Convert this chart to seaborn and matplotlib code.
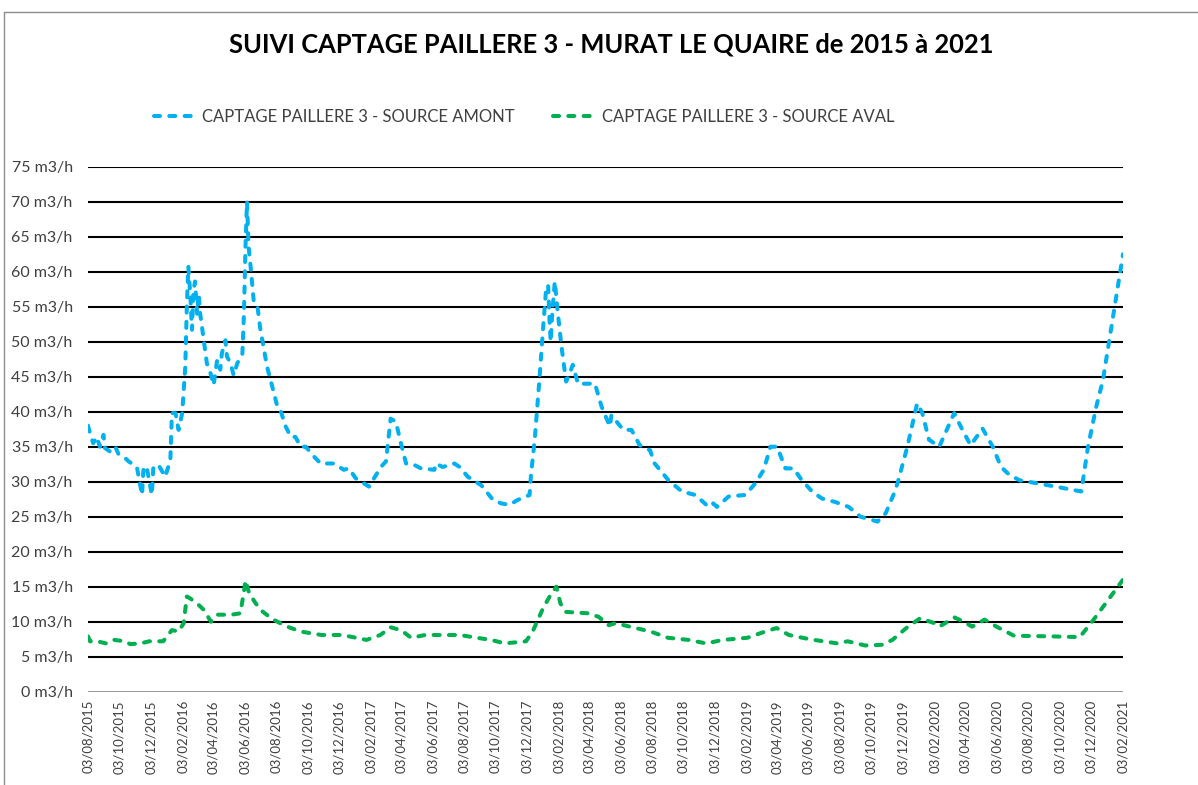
import matplotlib
matplotlib.use("Agg")
import matplotlib.pyplot as plt
from matplotlib.lines import Line2D
from matplotlib.ticker import FuncFormatter, MultipleLocator
import pandas as pd
import seaborn as sns

TITLE = "SUIVI CAPTAGE PAILLERE 3 - MURAT LE QUAIRE de 2015 à 2021"
NAME_AMONT = "CAPTAGE PAILLERE 3 - SOURCE AMONT"
NAME_AVAL = "CAPTAGE PAILLERE 3 - SOURCE AVAL"

amont_dates = [
    "2015-08-03", "2015-08-07", "2015-08-13", "2015-08-20", "2015-08-26", "2015-09-02", "2015-09-05",
    "2015-09-15", "2015-09-25", "2015-10-01", "2015-10-11", "2015-10-21", "2015-11-06", "2015-11-16",
    "2015-11-19", "2015-11-25", "2015-12-05", "2015-12-08", "2015-12-18", "2015-12-31", "2016-01-10",
    "2016-01-13", "2016-01-20", "2016-01-26", "2016-02-02", "2016-02-08", "2016-02-11", "2016-02-14",
    "2016-02-18", "2016-02-21", "2016-02-24", "2016-02-27", "2016-03-02", "2016-03-05", "2016-03-08",
    "2016-03-15", "2016-03-21", "2016-03-28", "2016-04-03", "2016-04-10", "2016-04-16", "2016-04-19",
    "2016-04-26", "2016-04-29", "2016-05-06", "2016-05-12", "2016-05-19", "2016-05-29", "2016-06-01",
    "2016-06-04", "2016-06-07", "2016-06-10", "2016-06-14", "2016-06-20", "2016-06-27", "2016-07-03",
    "2016-07-16", "2016-07-26", "2016-08-05", "2016-08-11", "2016-08-21", "2016-08-31", "2016-09-09",
    "2016-09-19", "2016-09-29", "2016-10-15", "2016-10-28", "2016-11-23", "2016-12-12", "2016-12-22",
    "2017-01-04", "2017-01-30", "2017-02-22", "2017-03-04", "2017-03-13", "2017-03-23", "2017-04-02",
    "2017-04-12", "2017-04-28", "2017-05-11", "2017-06-06", "2017-06-09", "2017-06-22", "2017-07-15",
    "2017-07-25", "2017-08-10", "2017-09-05", "2017-09-28", "2017-10-14", "2017-10-30", "2017-11-15",
    "2017-12-08", "2017-12-11", "2017-12-18", "2017-12-27", "2018-01-03", "2018-01-09", "2018-01-13",
    "2018-01-16", "2018-01-18", "2018-01-21", "2018-01-26", "2018-02-01", "2018-02-08", "2018-02-17",
    "2018-02-24", "2018-03-02", "2018-03-12", "2018-04-14", "2018-04-27", "2018-05-13", "2018-05-16",
    "2018-06-08", "2018-06-24", "2018-07-10", "2018-07-30", "2018-08-08", "2018-09-04", "2018-09-30",
    "2018-10-26", "2018-11-21", "2018-11-30", "2018-12-07", "2018-12-30", "2019-01-31", "2019-02-20",
    "2019-03-08", "2019-03-21", "2019-04-03", "2019-04-19", "2019-05-05", "2019-05-21", "2019-06-10",
    "2019-06-29", "2019-07-25", "2019-08-20", "2019-09-12", "2019-10-15", "2019-10-31", "2019-11-16",
    "2019-11-23", "2019-12-12", "2019-12-31", "2020-01-10", "2020-01-23", "2020-02-12", "2020-03-12",
    "2020-03-28", "2020-04-13", "2020-05-06", "2020-05-26", "2020-06-11", "2020-06-27", "2020-07-17",
    "2020-08-18", "2020-09-25", "2020-11-14", "2020-11-27", "2020-12-13", "2020-12-26", "2021-02-03",
]
amont_values = [
    38.0, 36.9, 35.5, 36.4, 35.0, 36.7, 34.8,
    34.3, 35.0, 34.0, 33.6, 32.9, 32.1, 28.1,
    32.1, 32.1, 28.1, 32.1, 32.4, 30.7, 33.1,
    39.8, 39.8, 37.4, 39.8, 46.4, 55.0, 60.7,
    56.4, 51.7, 57.4, 58.6, 54.0, 56.9, 54.0,
    50.2, 46.9, 45.5, 43.8, 47.4, 46.0, 48.3,
    50.2, 47.9, 46.9, 45.2, 46.9, 48.3, 54.0,
    63.6, 70.0, 63.6, 60.7, 55.8, 55.2, 51.7,
    46.4, 43.6, 40.7, 40.2, 37.9, 36.4, 36.4,
    35.0, 35.0, 33.6, 32.6, 32.6, 31.7, 31.9,
    30.5, 29.3, 32.1, 32.9, 39.0, 38.6, 35.5,
    32.6, 32.4, 31.9, 31.7, 32.6, 32.1, 32.6,
    32.1, 30.7, 29.5, 27.4, 26.9, 26.7, 27.4,
    28.1, 31.2, 36.0, 44.5, 51.7, 57.4, 58.1,
    52.6, 50.0, 54.0, 58.6, 54.0, 49.3, 44.3,
    45.5, 46.7, 44.0, 44.0, 40.7, 37.9, 39.5,
    37.4, 37.4, 35.2, 34.5, 32.6, 30.2, 28.6,
    28.1, 26.4, 26.9, 26.4, 27.9, 28.1, 29.8,
    31.7, 35.0, 35.0, 31.9, 31.9, 30.2, 28.6,
    27.6, 27.1, 26.4, 25.0, 24.3, 25.5, 28.3,
    29.8, 35.0, 41.2, 39.8, 36.0, 35.0, 39.8,
    37.4, 35.2, 37.6, 35.0, 32.1, 31.0, 30.2,
    29.8, 29.3, 28.6, 35.0, 40.7, 44.5, 62.5,
]

aval_dates = [
    "2015-08-03", "2015-08-07", "2015-08-21", "2015-09-07", "2015-09-23", "2015-10-14", "2015-10-24",
    "2015-11-13", "2015-11-30", "2015-12-27", "2016-01-13", "2016-01-26", "2016-02-05", "2016-02-11",
    "2016-02-18", "2016-03-02", "2016-03-15", "2016-03-29", "2016-04-11", "2016-05-08", "2016-05-25",
    "2016-06-01", "2016-06-04", "2016-06-11", "2016-06-24", "2016-07-08", "2016-07-28", "2016-08-24",
    "2016-09-19", "2016-10-30", "2016-12-09", "2017-01-05", "2017-01-25", "2017-02-21", "2017-03-13",
    "2017-04-02", "2017-04-22", "2017-05-19", "2017-06-28", "2017-07-25", "2017-08-28", "2017-09-24",
    "2017-10-21", "2017-12-01", "2017-12-14", "2018-01-03", "2018-01-16", "2018-01-29", "2018-02-06",
    "2018-02-16", "2018-04-01", "2018-04-21", "2018-05-11", "2018-05-24", "2018-06-20", "2018-07-31",
    "2018-09-03", "2018-10-13", "2018-11-16", "2018-12-19", "2019-02-04", "2019-03-03", "2019-04-02",
    "2019-04-26", "2019-06-05", "2019-07-29", "2019-08-18", "2019-09-21", "2019-10-24", "2019-11-13",
    "2019-12-10", "2020-01-06", "2020-02-02", "2020-02-12", "2020-03-13", "2020-03-30", "2020-04-16",
    "2020-05-10", "2020-06-02", "2020-07-06", "2020-09-18", "2020-11-11", "2020-12-08", "2021-01-10",
    "2021-02-03",
]
aval_values = [
    7.9, 7.2, 7.2, 6.9, 7.4, 7.2, 6.8,
    6.9, 7.2, 7.2, 8.8, 8.6, 9.8, 13.6,
    13.3, 12.6, 11.7, 10.0, 11.0, 11.0, 11.2,
    14.3, 15.9, 14.1, 12.6, 11.4, 10.3, 9.3,
    8.6, 8.1, 8.1, 7.7, 7.4, 8.1, 9.2,
    8.8, 7.7, 8.1, 8.1, 8.1, 7.7, 7.4,
    6.9, 7.2, 8.6, 11.9, 13.6, 15.0, 12.6,
    11.4, 11.2, 10.7, 9.5, 9.8, 9.3, 8.6,
    7.7, 7.4, 6.9, 7.4, 7.7, 8.4, 9.1,
    8.1, 7.5, 6.9, 7.2, 6.6, 6.7, 7.4,
    9.1, 10.5, 9.8, 9.3, 10.6, 10.0, 9.3,
    10.3, 9.3, 8.0, 7.9, 7.8, 10.3, 13.6,
    16.0,
]

tick_month_starts = pd.date_range("2015-08-01", "2021-02-01", freq="2MS")
y_max = 75
y_step = 5

BLUE = "#00B0F0"
GREEN = "#00B050"
TEXT = "#404040"

sns.set_theme(style="white")
plt.rcParams["font.family"] = ["Lato", "DejaVu Sans"]

df_amont = pd.DataFrame({"date": pd.to_datetime(amont_dates), "debit": amont_values})
df_aval = pd.DataFrame({"date": pd.to_datetime(aval_dates), "debit": aval_values})

W, H = 1198, 785
fig = plt.figure(figsize=(W / 100, H / 100), dpi=100)
ax = fig.add_axes([88 / W, 1 - 691.7 / H, (1123 - 88) / W, (691.7 - 166.7) / H])

for v in range(y_step, y_max + 1, y_step):
    ax.axhline(v, color="black", lw=1.5, zorder=1)
ax.axhline(0, color="#868686", lw=1.2, zorder=1)

dash = (0, (1.5, 2.3))
sns.lineplot(data=df_amont, x="date", y="debit", ax=ax, color=BLUE, lw=2.9,
             linestyle=dash, dash_capstyle="round", label=NAME_AMONT, zorder=3)
sns.lineplot(data=df_aval, x="date", y="debit", ax=ax, color=GREEN, lw=2.9,
             linestyle=dash, dash_capstyle="round", label=NAME_AVAL, zorder=3)

ticks = tick_month_starts + pd.Timedelta(days=2)
ax.set_xlim(ticks[0], ticks[-1])
ax.set_ylim(0, y_max)
ax.yaxis.set_major_locator(MultipleLocator(y_step))
ax.yaxis.set_major_formatter(FuncFormatter(lambda v, p: f"{int(v)} m3/h"))
ax.set_xticks(ticks)
ax.set_xticklabels([t.strftime("%d/%m/%Y") for t in ticks], rotation=90,
                   fontsize=9.5, color=TEXT)
for lab in ax.get_yticklabels():
    lab.set_fontsize(11.5)
    lab.set_color(TEXT)
ax.tick_params(axis="both", length=0)
ax.tick_params(axis="x", pad=6)
ax.tick_params(axis="y", pad=11)
ax.set_xlabel("")
ax.set_ylabel("")
for s in ax.spines.values():
    s.set_visible(False)
ax.grid(False)

leg = ax.legend(loc="center", bbox_to_anchor=(524 / W, 1 - 117 / H),
                bbox_transform=fig.transFigure, ncol=2, frameon=False,
                fontsize=12, handlelength=2.5, columnspacing=2.3, handletextpad=0.4)
for t in leg.get_texts():
    t.set_color(TEXT)

fig.text(611 / W, 1 - 45 / H, TITLE, ha="center", va="center",
         fontsize=18.4, fontweight="bold", color="black")

fig.add_artist(Line2D([4 / W, 4 / W], [0, 1 - 12 / H], color="#8c8c8c", lw=1))
fig.add_artist(Line2D([4 / W, 1], [1 - 12 / H, 1 - 12 / H], color="#8c8c8c", lw=1))

fig.savefig("out.png", dpi=100)
